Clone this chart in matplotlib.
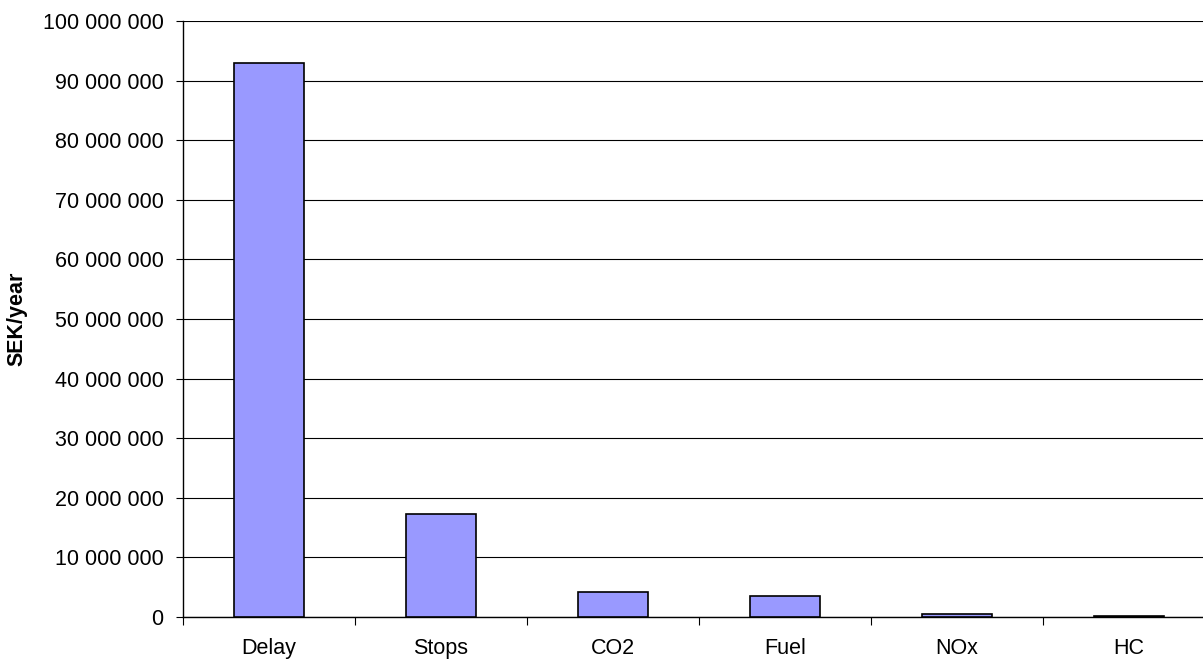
import matplotlib
matplotlib.use("Agg")
import matplotlib.pyplot as plt
from matplotlib.ticker import FuncFormatter, FixedLocator, MultipleLocator

categories = ["Delay", "Stops", "CO2", "Fuel", "NOx", "HC"]
values = [92900000, 17200000, 4250000, 3500000, 450000, 100000]

plt.rcParams['font.family'] = ['Liberation Sans', 'DejaVu Sans']

fig = plt.figure(figsize=(12.03, 6.62), dpi=100)
W, H = 1203, 662
left_px, right_px, top_px, bottom_px = 183, 1215, 21, 617
ax = fig.add_axes([left_px / W, 1 - bottom_px / H, (right_px - left_px) / W, (bottom_px - top_px) / H])

x = list(range(len(categories)))
ax.bar(x, values, width=0.41, color="#9999FF", edgecolor="black", linewidth=1.2, zorder=3)

ax.set_xlim(-0.5, len(categories) - 0.5)
ax.set_ylim(0, 100000000)
ax.yaxis.set_major_locator(MultipleLocator(10000000))
ax.yaxis.set_major_formatter(FuncFormatter(lambda v, p: f"{int(v):,}".replace(",", " ")))
ax.grid(axis="y", color="black", linewidth=0.8, zorder=0)

ax.xaxis.set_major_locator(FixedLocator([i - 0.5 for i in range(len(categories) + 1)]))
ax.xaxis.set_major_formatter(FuncFormatter(lambda v, p: ""))
ax.xaxis.set_minor_locator(FixedLocator(x))
ax.set_xticklabels(categories, minor=True)
ax.tick_params(axis="x", which="major", length=6, width=0.8, direction="out")
ax.tick_params(axis="x", which="minor", length=0, pad=15, labelsize=15.5)
ax.tick_params(axis="y", length=5, width=0.8, labelsize=15.5, pad=9)

for s in ["top", "right"]:
    ax.spines[s].set_visible(False)
ax.spines["left"].set_linewidth(1.0)
ax.spines["bottom"].set_linewidth(1.0)

ax.set_ylabel("SEK/year", fontsize=15.5, fontweight="bold")
ax.yaxis.set_label_coords((27 - left_px) / (right_px - left_px), 0.5)

fig.savefig("out.png", dpi=100)
